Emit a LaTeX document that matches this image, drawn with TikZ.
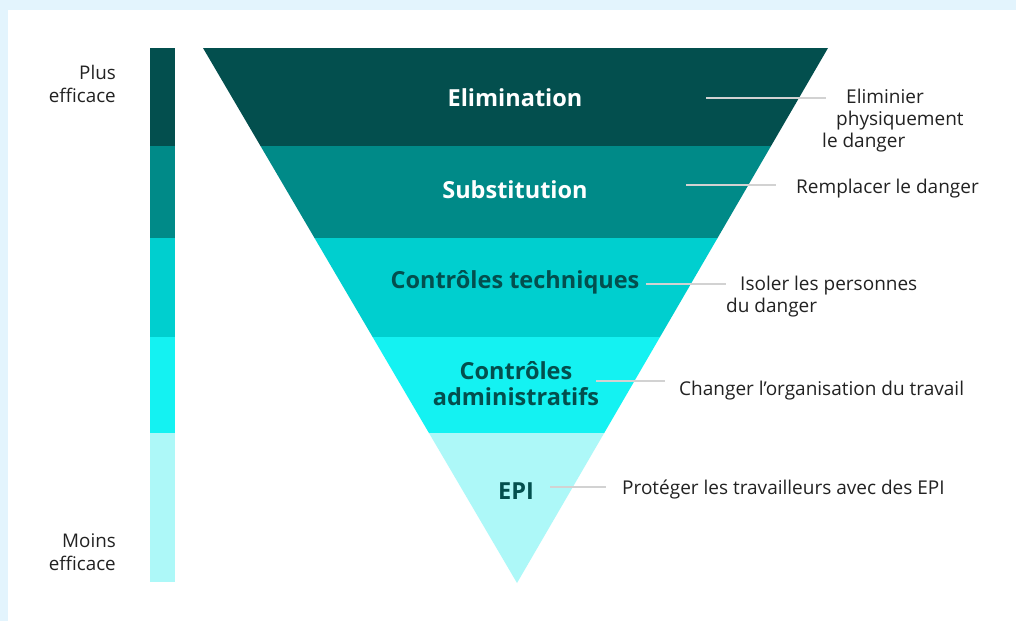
\documentclass[tikz,border=0pt]{standalone}
\usepackage{fontspec}
\setmainfont{Open Sans}
\usetikzlibrary{calc}
\definecolor{bgblue}{HTML}{E3F4FD}
\definecolor{cA}{HTML}{034F4E}
\definecolor{cB}{HTML}{008A88}
\definecolor{cC}{HTML}{00CFCF}
\definecolor{cD}{HTML}{14F2F2}
\definecolor{cE}{HTML}{ADF8F8}
\definecolor{txt}{HTML}{222222}
\definecolor{leader}{HTML}{D2D2D2}
\tikzset{
  title/.style={font=\fontsize{23.5}{26}\selectfont\bfseries, align=center, inner sep=0pt},
  lbl/.style={font=\fontsize{19}{22}\selectfont, text=txt, inner sep=0pt},
  side/.style={font=\fontsize{18.8}{23}\selectfont, text=txt, align=right, inner sep=0pt, anchor=east},
  lead/.style={draw=leader, line width=1.2pt},
}
\begin{document}
\begin{tikzpicture}[x=1pt,y=-1pt]
\useasboundingbox (0,0) rectangle (1016,621);
\fill[bgblue] (0,0) rectangle (1016,621);
\fill[white] (8,10) rectangle (1016,621);
% triangle corners
\coordinate (TL) at (203,48);
\coordinate (TR) at (828,48);
\coordinate (AP) at (517,583);
\foreach \n/\t in {1/0.18318,2/0.35514,3/0.54019,4/0.71963}{
  \coordinate (L\n) at ($(TL)!\t!(AP)$);
  \coordinate (R\n) at ($(TR)!\t!(AP)$);
}
\fill[cA] (TL) -- (TR) -- (R1) -- (L1) -- cycle;
\fill[cB] (L1) -- (R1) -- (R2) -- (L2) -- cycle;
\fill[cC] (L2) -- (R2) -- (R3) -- (L3) -- cycle;
\fill[cD] (L3) -- (R3) -- (R4) -- (L4) -- cycle;
\fill[cE] (L4) -- (R4) -- (AP) -- cycle;
% left bar
\fill[cA] (150,48) rectangle (175,146);
\fill[cB] (150,146) rectangle (175,238);
\fill[cC] (150,238) rectangle (175,337);
\fill[cD] (150,337) rectangle (175,433);
\fill[cE] (150,433) rectangle (175,582);
% side labels
\node[side] (plus) at (116,84) {Plus\\efficace};
\node[side] (moins) at (116,552) {Moins\\efficace};
% titles
\node[title, text=white] (t1) at (515,98) {Elimination};
\node[title, text=white] (t2) at (515,190) {Substitution};
\node[title, text=cA] (t3) at (515,282) {Contrôles techniques};
\node[title, text=cA] (t4) at (516,384) {Contrôles\\administratifs};
\node[title, text=cA] (t5) at (516,491) {EPI};
% leader lines
\coordinate (a1) at (706,98);  \coordinate (b1) at (826,98);
\coordinate (a2) at (686,185); \coordinate (b2) at (776,185);
\coordinate (a3) at (646,284); \coordinate (b3) at (726,284);
\coordinate (a4) at (596,381); \coordinate (b4) at (665,381);
\coordinate (a5) at (550,487); \coordinate (b5) at (606,487);
\foreach \i in {1,...,5}{ \draw[lead] (a\i) -- (b\i); }
% right labels
\node[lbl, align=left, anchor=west] (d1) at (822,121) {\hspace*{24pt}Eliminier\\\hspace*{14pt}physiquement\\le danger};
\node[lbl, anchor=west] (d2) at (796,188.5) {Remplacer le danger};
\node[lbl, align=left, anchor=west] (d3) at (726,297) {\hspace*{14pt}Isoler les personnes\\du danger};
\node[lbl, anchor=west] (d4) at (679,390.5) {Changer l’organisation du travail};
\node[lbl, anchor=west] (d5) at (622,489.5) {Protéger les travailleurs avec des EPI};
\end{tikzpicture}
\end{document}
